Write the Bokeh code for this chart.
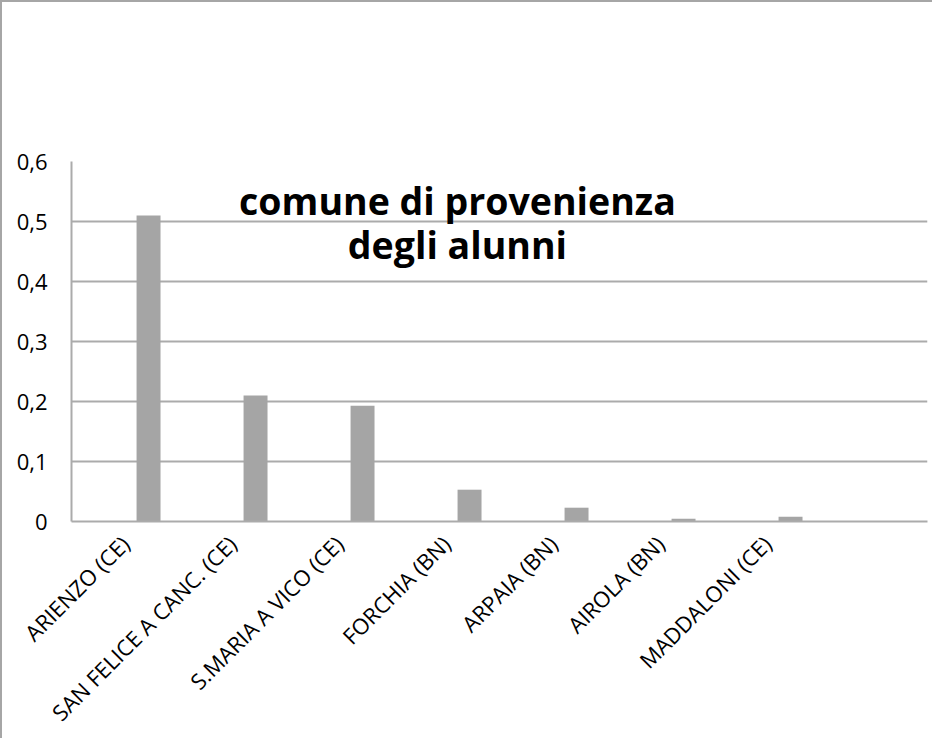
import math
from bokeh.plotting import figure
from bokeh.models import (FactorRange, Range1d, FixedTicker, CustomJSTickFormatter,
                          Label, ColumnDataSource)
from bokeh.transform import dodge
from bokeh.embed import file_html
from bokeh.resources import INLINE

# ---- data ----
comuni = ["ARIENZO (CE)", "SAN FELICE A CANC. (CE)", "S.MARIA A VICO (CE)",
          "FORCHIA (BN)", "ARPAIA (BN)", "AIROLA (BN)", "MADDALONI (CE)"]
quote = [0.51, 0.21, 0.193, 0.053, 0.023, 0.0045, 0.008]
y_ticks = [0, 0.1, 0.2, 0.3, 0.4, 0.5, 0.6]
title_lines = ["comune di provenienza", "degli alunni"]

factors = comuni + [" "]  # empty last slot as in the original
src = ColumnDataSource(dict(comune=comuni, quota=quote))

GRID = "#ababab"
FONT = "Open Sans"

p = figure(width=932, height=738, output_backend="svg", toolbar_location=None,
           x_range=FactorRange(*factors), y_range=Range1d(0, 0.6),
           min_border_left=69, min_border_right=7, min_border_top=159,
           min_border_bottom=219)
p.styles = {"border-top": "2px solid #a6a6a6", "border-left": "2px solid #a6a6a6"}
p.outline_line_color = None

p.vbar(x=dodge("comune", 0.22, range=p.x_range), top="quota", width=0.224,
       source=src, fill_color="#a5a5a5", line_color=None)

# y axis
p.yaxis.ticker = FixedTicker(ticks=y_ticks)
p.yaxis.formatter = CustomJSTickFormatter(
    code="return tick === 0 ? '0' : tick.toFixed(1).replace('.', ',');")
p.yaxis.axis_line_color = GRID
p.yaxis.axis_line_width = 2
p.yaxis.major_tick_line_color = None
p.yaxis.minor_tick_line_color = None
p.yaxis.major_label_text_font = FONT
p.yaxis.major_label_text_font_size = "22px"
p.yaxis.major_label_text_color = "#000000"
p.yaxis.major_label_standoff = 18

# x axis
p.xaxis.axis_line_color = GRID
p.xaxis.axis_line_width = 2
p.xaxis.major_tick_line_color = None
p.xaxis.minor_tick_line_color = None
p.xaxis.major_label_orientation = math.pi / 4
p.xaxis.major_label_text_font = FONT
p.xaxis.major_label_text_font_size = "22px"
p.xaxis.major_label_text_color = "#000000"
p.xaxis.major_label_standoff = 12

p.xgrid.grid_line_color = None
p.ygrid.grid_line_color = GRID
p.ygrid.grid_line_width = 2

# title inside the plot area
for txt, yy in zip(title_lines, [0.535, 0.462]):
    p.add_layout(Label(x=3.607, y=yy, text=txt, text_align="center",
                       text_baseline="alphabetic", text_font=FONT,
                       text_font_style="bold", text_font_size="37.5px",
                       text_color="#000000"))

open("out.html", "w").write(file_html(p, INLINE))
